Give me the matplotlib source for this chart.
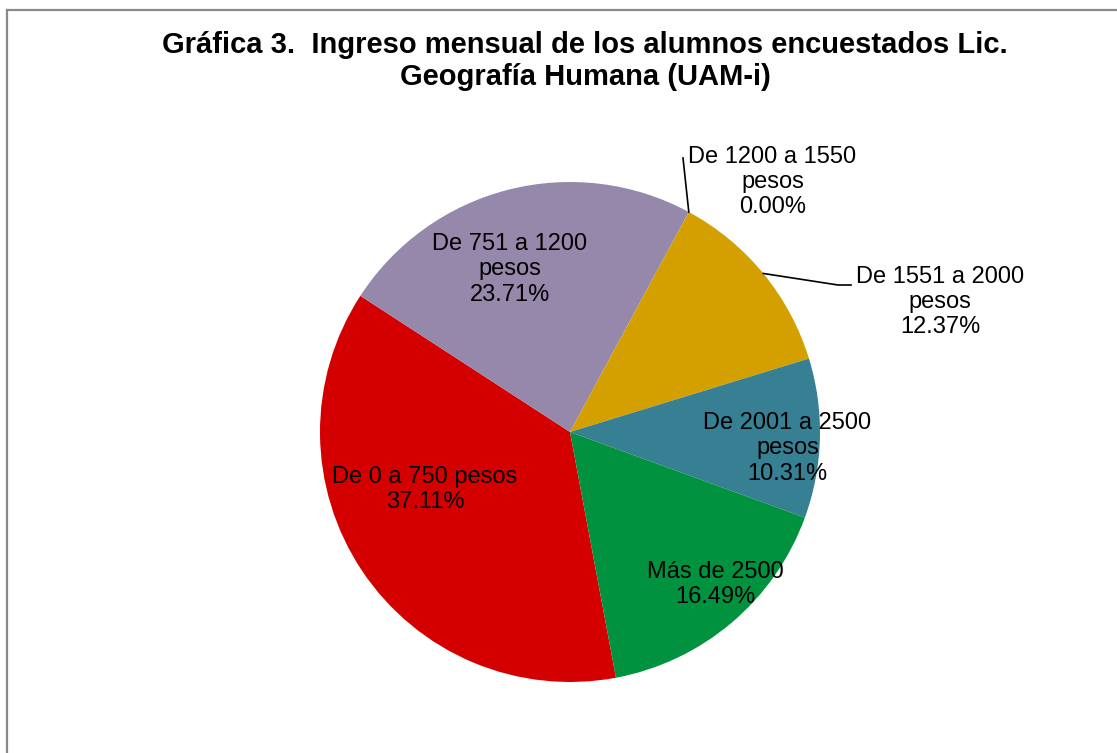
import matplotlib
matplotlib.use("Agg")
import matplotlib.pyplot as plt
from matplotlib.lines import Line2D
import numpy as np

plt.rcParams['font.family'] = ['Liberation Sans', 'DejaVu Sans']

# categorias y porcentajes
categorias = ['De 0 a 750 pesos', 'De 751 a 1200\npesos', 'De 1200 a 1550\npesos',
              'De 1551 a 2000\npesos', 'De 2001 a 2500\npesos', 'Más de 2500']
porcentajes = [37.11, 23.71, 0.00, 12.37, 10.31, 16.49]
colores = ['#D40000', '#9688AA', '#2E7D32', '#D4A000', '#377F93', '#00923F']

# posicion de las etiquetas (coordenadas del eje)
pos_etiquetas = [(-0.58, -0.23), (-0.24, 0.65), (0.81, 1.0),
                 (1.48, 0.52), (0.87, -0.065), (0.58, -0.61)]

W, H = 1117, 753
fig = plt.figure(figsize=(W / 100, H / 100), dpi=100)

cx, cy, r = 570, 432, 250
ax = fig.add_axes([(cx - r) / W, (H - cy - r) / H, 2 * r / W, 2 * r / H])

wedges, _ = ax.pie(porcentajes, colors=colores, startangle=-79.4, counterclock=False,
                   radius=1, wedgeprops=dict(linewidth=0))
ax.set_xlim(-1, 1)
ax.set_ylim(-1, 1)
ax.set_axis_off()

for i, (cat, val) in enumerate(zip(categorias, porcentajes)):
    x, y = pos_etiquetas[i]
    ax.text(x, y, f"{cat}\n{val:.2f}%", ha='center', va='center', fontsize=17,
            linespacing=1.2, clip_on=False)

# lineas guia
def borde(w):
    ang = np.deg2rad((w.theta1 + w.theta2) / 2)
    return np.cos(ang), np.sin(ang)

x0, y0 = borde(wedges[2])
ax.plot([x0, (683 - cx) / r], [y0, (cy - 158) / r], color='black', lw=1.2, clip_on=False)
x0, y0 = borde(wedges[3])
ax.plot([x0, (838 - cx) / r, (851 - cx) / r], [y0, (cy - 285) / r, (cy - 285) / r],
        color='black', lw=1.2, clip_on=False)

fig.text(0.524, 0.919, "Gráfica 3.  Ingreso mensual de los alumnos encuestados Lic.\nGeografía Humana (UAM-i)",
         ha='center', va='center', fontsize=21, fontweight='bold', linespacing=1.15)

# marco
fig.add_artist(Line2D([6.5 / W, 6.5 / W], [0, 1 - 10 / H], color='#8a8a8a', lw=1.6))
fig.add_artist(Line2D([6.5 / W, 1], [1 - 10 / H, 1 - 10 / H], color='#8a8a8a', lw=1.6))

fig.savefig("out.png", dpi=100)
